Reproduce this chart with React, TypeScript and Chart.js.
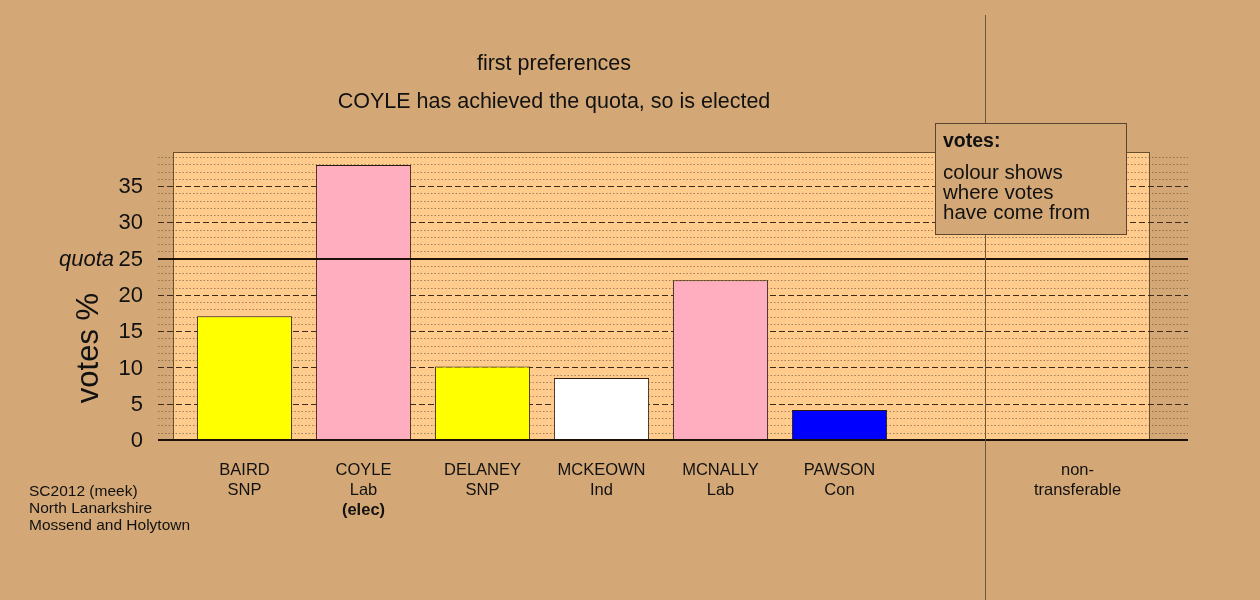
import React, { useEffect, useRef } from "react";
import { Chart, registerables } from "chart.js";

Chart.register(...registerables);

const candidates = ["BAIRD", "COYLE", "DELANEY", "MCKEOWN", "MCNALLY", "PAWSON", "", "non-"];
const parties = ["SNP", "Lab", "SNP", "Ind", "Lab", "Con", "", "transferable"];
const status = ["", "(elec)", "", "", "", "", "", ""];
const votesPct: (number | null)[] = [17.07, 37.9, 10.13, 8.54, 22.03, 4.13, null, 0];
const barColours = ["#FFFF00", "#FFAEC0", "#FFFF00", "#FFFFFF", "#FFAEC0", "#0000FF", "#FFFFFF", "#FFFFFF"];
const yTicks = [0, 5, 10, 15, 20, 25, 30, 35];
const minorTicks = Array.from({ length: 39 }, (_, i) => i + 1);
const quota = 25;
const yMax = 39.7;
const separatorAt = 6.22;
const titleLines = ["first preferences", "COYLE has achieved the quota, so is elected"];
const footnote = ["SC2012 (meek)", "North Lanarkshire", "Mossend and Holytown"];
const legendLines = ["colour shows", "where votes", "have come from"];

const BG = "#D4A876";
const PANEL = "#FFCC8E";
const FONT = "'Liberation Sans', Arial, sans-serif";

const decor = {
  id: "decor",
  beforeDatasetsDraw(chart: any) {
    const { ctx, chartArea, scales } = chart;
    const y = scales.y;
    const gl = chartArea.left - 27;
    const gr = chartArea.right + 51;
    const base = y.getPixelForValue(0);
    ctx.save();
    // panel
    ctx.fillStyle = PANEL;
    ctx.fillRect(chartArea.left - 12, chartArea.top, chartArea.width + 24, base - chartArea.top);
    ctx.strokeStyle = "#6a4e30";
    ctx.lineWidth = 1;
    ctx.strokeRect(chartArea.left - 12 + 0.5, chartArea.top + 0.5, chartArea.width + 24, base - chartArea.top);
    // minor dotted
    ctx.strokeStyle = "rgba(100,75,45,0.6)";
    ctx.setLineDash([1.5, 2]);
    for (const v of minorTicks) {
      if (v % 5 === 0) continue;
      const py = Math.round(y.getPixelForValue(v)) + 0.5;
      ctx.beginPath();
      ctx.moveTo(gl, py);
      ctx.lineTo(gr, py);
      ctx.stroke();
    }
    // dashed major
    ctx.strokeStyle = "#3c2c1c";
    ctx.setLineDash([6, 3]);
    for (const v of yTicks) {
      if (v === 0 || v === quota) continue;
      const py = Math.round(y.getPixelForValue(v)) + 0.5;
      ctx.beginPath();
      ctx.moveTo(gl, py);
      ctx.lineTo(gr, py);
      ctx.stroke();
    }
    ctx.setLineDash([]);
    ctx.restore();
  },
  afterDatasetsDraw(chart: any) {
    const { ctx, chartArea, scales } = chart;
    const y = scales.y;
    const x = scales.x;
    const gl = chartArea.left - 27;
    const gr = chartArea.right + 51;
    ctx.save();
    // quota line
    ctx.strokeStyle = "#1a1008";
    ctx.lineWidth = 2;
    let py = Math.round(y.getPixelForValue(quota));
    ctx.beginPath();
    ctx.moveTo(gl, py);
    ctx.lineTo(gr, py);
    ctx.stroke();
    // baseline
    py = Math.round(y.getPixelForValue(0));
    ctx.beginPath();
    ctx.moveTo(gl, py);
    ctx.lineTo(gr, py);
    ctx.stroke();
    // separator
    const sx = Math.round(x.getPixelForValue(separatorAt)) + 0.5;
    ctx.strokeStyle = "#6a5540";
    ctx.lineWidth = 1;
    ctx.beginPath();
    ctx.moveTo(sx, 15);
    ctx.lineTo(sx, 600);
    ctx.stroke();

    ctx.fillStyle = "#111";
    // y ticks
    ctx.font = `22px ${FONT}`;
    ctx.textAlign = "right";
    ctx.textBaseline = "middle";
    for (const v of yTicks) {
      ctx.fillText(String(v), chartArea.left - 42, y.getPixelForValue(v) + 1);
    }
    ctx.font = `italic 22px ${FONT}`;
    ctx.fillText("quota", chartArea.left - 71, y.getPixelForValue(quota) + 1);
    // y title
    ctx.save();
    ctx.translate(89, 348);
    ctx.rotate(-Math.PI / 2);
    ctx.textAlign = "center";
    ctx.font = `31px ${FONT}`;
    ctx.fillText("votes %", 0, 0);
    ctx.restore();
    // x labels
    ctx.textAlign = "center";
    const bottom = y.getPixelForValue(0);
    candidates.forEach((c, i) => {
      const cx = x.getPixelForValue(i);
      ctx.font = `16.5px ${FONT}`;
      ctx.fillText(c, cx, bottom + 30);
      ctx.fillText(parties[i], cx, bottom + 50);
      if (status[i]) {
        ctx.font = `bold 16.5px ${FONT}`;
        ctx.fillText(status[i], cx, bottom + 70);
      }
    });
    // footnote
    ctx.textAlign = "left";
    ctx.font = `15.5px ${FONT}`;
    footnote.forEach((t, i) => ctx.fillText(t, 29, 492 + i * 17));
    // titles
    ctx.textAlign = "center";
    ctx.font = `21.5px ${FONT}`;
    titleLines.forEach((t, i) => ctx.fillText(t, 554, 64 + i * 38));
    // legend box
    ctx.fillStyle = BG;
    ctx.fillRect(935.5, 123.5, 191, 111);
    ctx.strokeStyle = "#5a4630";
    ctx.strokeRect(935.5, 123.5, 191, 111);
    ctx.fillStyle = "#111";
    ctx.textAlign = "left";
    ctx.font = `bold 19.5px ${FONT}`;
    ctx.fillText("votes:", 943, 142);
    ctx.font = `20.5px ${FONT}`;
    legendLines.forEach((t, i) => ctx.fillText(t, 943, 173 + i * 20));
    ctx.restore();
  },
};

export default function App() {
  const ref = useRef<HTMLCanvasElement | null>(null);
  useEffect(() => {
    document.body.style.margin = "0";
    document.body.style.background = BG;
    const chart = new Chart(ref.current!, {
      type: "bar",
      data: {
        labels: candidates.map((c, i) => `${c} ${parties[i]}`),
        datasets: [
          {
            data: votesPct,
            backgroundColor: barColours,
            borderColor: "#2a1c10",
            borderWidth: (c: any) => (c.raw > 0 ? 1 : 0),
            borderSkipped: false,
            categoryPercentage: 1,
            barPercentage: 0.8,
          },
        ],
      },
      options: {
        animation: false,
        responsive: false,
        maintainAspectRatio: false,
        layout: { padding: { left: 185, right: 123, top: 152, bottom: 160 } },
        plugins: { legend: { display: false }, tooltip: { enabled: false }, title: { display: false } },
        scales: {
          x: { display: false, offset: true, grid: { display: false } },
          y: { display: false, min: 0, max: yMax },
        },
      },
      plugins: [decor],
    });
    return () => chart.destroy();
  }, []);
  return (
    <div style={{ width: 1260, height: 600, background: BG }}>
      <canvas ref={ref} width={1260} height={600} style={{ width: 1260, height: 600, display: "block" }} />
    </div>
  );
}
